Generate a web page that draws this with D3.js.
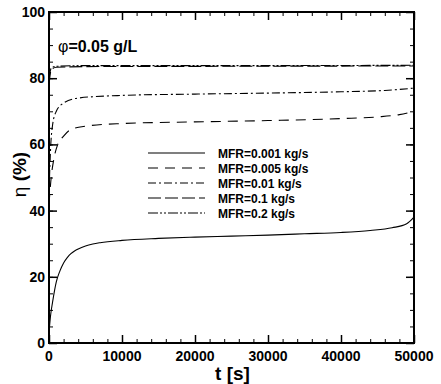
<!DOCTYPE html>
<html>
<head>
<meta charset="utf-8">
<script src="https://cdn.jsdelivr.net/npm/d3@7"></script>
<style>
  body { margin: 0; background: #fff; }
  svg text { font-family: 'Liberation Sans', Arial, sans-serif; }
</style>
</head>
<body>
<svg></svg>
<script>
let svgWidth = 441
let svgHeight = 384

let xTicks = [0, 10000, 20000, 30000, 40000, 50000]
let yTicks = [0, 20, 40, 60, 80, 100]

let labels = ['MFR=0.001 kg/s', 'MFR=0.005 kg/s', 'MFR=0.01 kg/s', 'MFR=0.1 kg/s', 'MFR=0.2 kg/s']

// [t, eta]
let mfr001 = [[0, 3], [200, 8], [500, 12.5], [1000, 18.5], [1500, 21.8], [2000, 24.2], [2500, 25.8], [3000, 27],
  [3500, 27.8], [4000, 28.4], [5000, 29.3], [6000, 29.9], [7000, 30.3], [10000, 31], [15000, 31.6], [20000, 32],
  [25000, 32.3], [30000, 32.6], [35000, 33], [40000, 33.4], [44000, 34], [47000, 34.8], [49000, 36], [50000, 38]]
let mfr005 = [[0, 42], [300, 50], [700, 56], [1200, 60], [2000, 62.5], [3000, 64.5], [5000, 65.5],
  [10000, 66.3], [20000, 66.8], [30000, 67.2], [40000, 67.8], [45000, 68.3], [48000, 69], [50000, 70]]
let mfr01 = [[0, 45], [200, 58], [500, 66], [1000, 70], [2000, 72.5], [4000, 74], [10000, 74.8], [20000, 75.2],
  [30000, 75.5], [40000, 75.9], [46000, 76.3], [50000, 77]]
let mfr1 = [[0, 78], [300, 82.5], [1000, 83.3], [5000, 83.5], [25000, 83.6], [50000, 83.7]]
let mfr2 = [[0, 80], [300, 83], [1000, 83.6], [5000, 83.8], [25000, 83.8], [50000, 83.9]]

let series = [mfr001, mfr005, mfr01, mfr1, mfr2]
let dashes = ['none', '10,7', '8,3,2,3', '13,4', '10,2,2,2,2,2']

let margin = { left: 49, right: 27, top: 12, bottom: 41 }
let plotW = svgWidth - margin.left - margin.right
let plotH = svgHeight - margin.top - margin.bottom

let svg = d3.select('svg').attr('width', svgWidth).attr('height', svgHeight)
let g = svg.append('g').attr('transform', 'translate(' + margin.left + ',' + margin.top + ')')

let xScale = d3.scaleLinear().domain([0, 50000]).range([0, plotW])
let yScale = d3.scaleLinear().domain([0, 100]).range([plotH, 0])

// minor + major ticks on all four sides, pointing inward
function tickSide(axisFn, scale, major, minor, pos) {
  let minorAxis = axisFn(scale).tickValues(minor).tickSize(-4).tickFormat('')
  let majorAxis = axisFn(scale).tickValues(major).tickSize(-8).tickFormat('')
  let a = g.append('g').attr('transform', pos).call(minorAxis)
  a.select('.domain').remove()
  let b = g.append('g').attr('transform', pos).call(majorAxis)
  b.select('.domain').remove()
  a.selectAll('line').attr('stroke', '#000').attr('stroke-width', 1)
  b.selectAll('line').attr('stroke', '#000').attr('stroke-width', 1.5)
}

let xMinor = d3.range(0, 50001, 2000)
let yMinor = d3.range(0, 101, 5)
tickSide(d3.axisBottom, xScale, xTicks, xMinor, 'translate(0,' + plotH + ')')
tickSide(d3.axisTop, xScale, xTicks, xMinor, 'translate(0,0)')
tickSide(d3.axisLeft, yScale, yTicks, yMinor, 'translate(0,0)')
tickSide(d3.axisRight, yScale, yTicks, yMinor, 'translate(' + plotW + ',0)')

// tick labels
g.append('g').selectAll('text').data(xTicks).enter().append('text')
  .attr('x', d => xScale(d)).attr('y', plotH + 18)
  .attr('text-anchor', 'middle').attr('font-size', 14).attr('font-weight', 'bold')
  .text(d => d)
g.append('g').selectAll('text').data(yTicks).enter().append('text')
  .attr('x', -4).attr('y', d => yScale(d) + 5)
  .attr('text-anchor', 'end').attr('font-size', 14).attr('font-weight', 'bold')
  .text(d => d)

let line = d3.line().x(d => xScale(d[0])).y(d => yScale(d[1])).curve(d3.curveMonotoneX)

g.selectAll('.curve').data(series).enter().append('path')
  .attr('class', 'curve')
  .attr('d', d => line(d))
  .attr('fill', 'none').attr('stroke', '#000').attr('stroke-width', 1.1)
  .attr('stroke-dasharray', (d, i) => dashes[i])

// frame
g.append('rect').attr('width', plotW).attr('height', plotH)
  .attr('fill', 'none').attr('stroke', '#000').attr('stroke-width', 2)

// legend
let legend = g.append('g').attr('transform', 'translate(99,141)')
labels.forEach(function(lab, i) {
  let y = i * 15
  legend.append('line').attr('x1', 0).attr('x2', 57).attr('y1', y).attr('y2', y)
    .attr('stroke', '#000').attr('stroke-width', 1.1).attr('stroke-dasharray', dashes[i])
  legend.append('text').attr('x', 70).attr('y', y + 4.5)
    .attr('font-size', 12).attr('font-weight', 'bold').text(lab)
})

// annotation
let ann = g.append('text').attr('x', 9).attr('y', 40).attr('font-size', 16).attr('font-weight', 'bold')
ann.append('tspan').attr('font-weight', 'normal').text('φ')
ann.append('tspan').text('=0.05 g/L')

// axis titles
svg.append('text').attr('x', margin.left + plotW / 2 + 1).attr('y', 380)
  .attr('text-anchor', 'middle').attr('font-size', 19).attr('font-weight', 'bold').text('t [s]')
let yl = svg.append('text').attr('transform', 'translate(26,' + (margin.top + plotH / 2 - 3) + ') rotate(-90)')
  .attr('text-anchor', 'middle').attr('font-size', 19).attr('font-weight', 'bold')
yl.append('tspan').attr('font-weight', 'normal').text('η')
yl.append('tspan').text(' (%)')
</script>
</body>
</html>
